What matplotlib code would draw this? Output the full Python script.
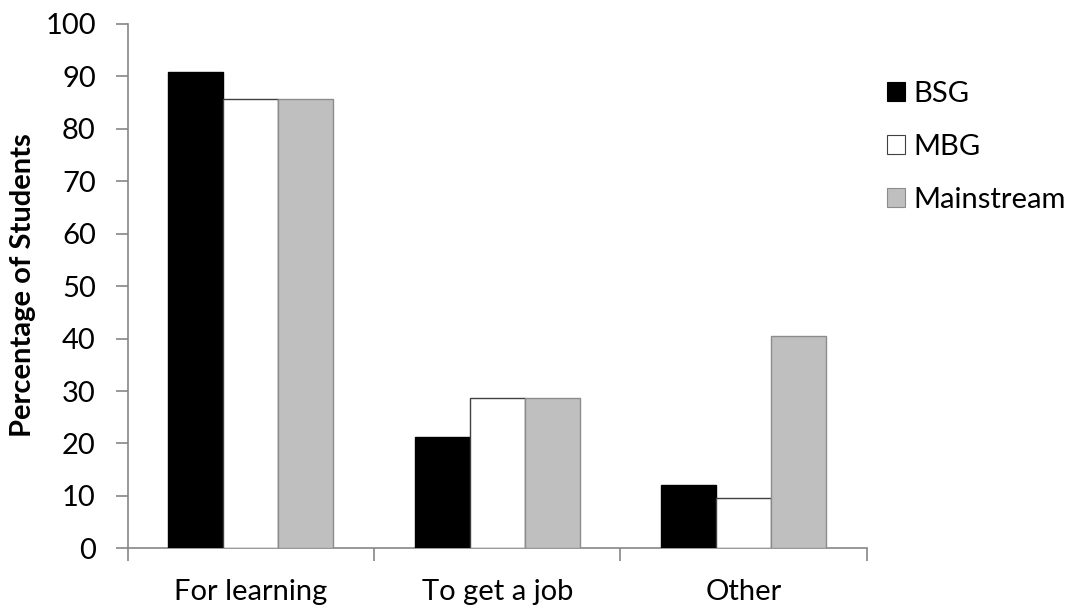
import matplotlib
matplotlib.use("Agg")
import matplotlib.pyplot as plt
import numpy as np
from matplotlib.patches import Patch

categories = ["For learning", "To get a job", "Other"]
series_names = ["BSG", "MBG", "Mainstream"]
bsg = [90.9, 21.2, 12.1]
mbg = [85.7, 28.6, 9.5]
mainstream = [85.7, 28.6, 40.5]
yticks = [0, 10, 20, 30, 40, 50, 60, 70, 80, 90, 100]

plt.rcParams["font.family"] = ["Lato", "DejaVu Sans"]

fig = plt.figure(figsize=(10.72, 6.08), dpi=100)
ax = fig.add_axes([127.7 / 1072, 1 - 548.3 / 608, (866.7 - 127.7) / 1072, (548.3 - 24) / 608])

x = np.arange(len(categories))
w = 0.223
fills = ["#000000", "#FFFFFF", "#BFBFBF"]
edges = ["#000000", "#404040", "#8C8C8C"]
for i, vals in enumerate([bsg, mbg, mainstream]):
    ax.bar(x + (i - 1) * w, vals, width=w, color=fills[i], edgecolor=edges[i],
           linewidth=1.0, zorder=3)

ax.set_xlim(-0.5, len(categories) - 0.5)
ax.set_ylim(0, 100)
ax.set_yticks(yticks)
ax.set_yticklabels([str(t) for t in yticks], fontsize=21)

# category boundary ticks on x axis, labels at centres
ax.set_xticks(np.arange(-0.5, len(categories), 1.0))
ax.set_xticklabels([])
ax.set_xticks(x, minor=True)
ax.set_xticklabels(categories, minor=True, fontsize=21)
ax.tick_params(axis="x", which="minor", length=0, pad=22)
ax.tick_params(axis="x", which="major", direction="out", length=9, color="#868686", width=1.2)
ax.tick_params(axis="y", direction="out", length=9, color="#868686", width=1.2, pad=14)

for s in ["top", "right"]:
    ax.spines[s].set_visible(False)
for s in ["left", "bottom"]:
    ax.spines[s].set_color("#868686")
    ax.spines[s].set_linewidth(1.2)

fig.text(23 / 1072, 1 - 285 / 608, "Percentage of Students", rotation=90,
         ha="center", va="center", fontsize=21, fontweight="bold")

handles = [Patch(facecolor=fills[i], edgecolor=edges[i], linewidth=0.8) for i in range(3)]
leg = fig.legend(handles, series_names, loc="upper left", bbox_to_anchor=(887 / 1072, 1 - 81 / 608),
                 frameon=False, fontsize=21, handlelength=0.62, handleheight=0.62,
                 handletextpad=0.3, labelspacing=0.92, borderaxespad=0, borderpad=0)

fig.savefig("out.png", dpi=100)
